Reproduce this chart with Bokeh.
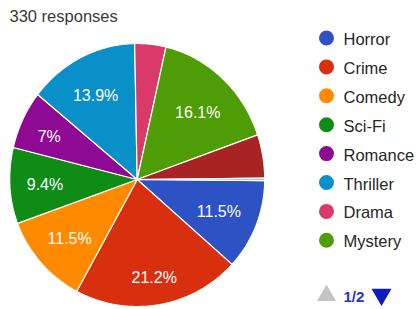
import numpy as np
from bokeh.plotting import figure
from bokeh.models import Range1d
from bokeh.core.properties import value
from bokeh.embed import file_html
from bokeh.resources import INLINE

# ---------------- data ----------------
title_text = "330 responses"
genres = ["Horror", "Crime", "Comedy", "Sci-Fi", "Romance", "Thriller",
          "Drama", "Mystery", "Other 1", "Other 2"]
counts = [38, 70, 38, 31, 23, 46, 13, 53, 17, 1]
colors = ["#2c52c4", "#d8300f", "#ff8a00", "#0e8c16", "#8f0a94", "#0a90c8",
          "#d93a69", "#4e9c06", "#a82424", "#9fbfe0"]
legend_count = 8
page_label = "1/2"

# ---------------- layout (page pixel coordinates) ----------------
FONT = value("Liberation Sans")
FS = "16.5px"
cx, cy = 136.7, 179.0
rx, ry_up, ry_down = 127.5, 136.0, 127.0
start_deg = 90.5          # clockwise from 12 o'clock

W, H = 416, 309
p = figure(width=W, height=H, output_backend="svg", toolbar_location=None,
           x_range=Range1d(0, W), y_range=Range1d(H, 0),
           x_axis_location=None, y_axis_location=None, min_border=0)
p.grid.visible = False
p.outline_line_color = None
p.background_fill_color = "white"
p.border_fill_color = "white"

total = float(sum(counts))
fr = np.array(counts) / total
ends = start_deg + np.cumsum(fr) * 360.0
starts = ends - fr * 360.0


def pt(phi_deg):
    ph = np.radians(phi_deg)
    c = np.cos(ph)
    ry = np.where(c > 0, ry_up, ry_down)
    return cx + rx * np.sin(ph), cy - ry * c


xs, ys = [], []
for s, e in zip(starts, ends):
    n = max(3, int((e - s) / 1.0) + 2)
    ang = np.linspace(s, e, n)
    ax, ay = pt(ang)
    xs.append(np.concatenate([[cx], ax]).tolist())
    ys.append(np.concatenate([[cy], ay]).tolist())

p.patches(xs=xs, ys=ys, fill_color=colors, line_color="white", line_width=1.2)

# slice labels
char_w = {"%": 0.889, ".": 0.278}
fs_px = 16.0
R_lab = 111.0
lx, ly, lt = [], [], []
for s, e, f in zip(starts, ends, fr):
    pct = f * 100
    if pct < 6:
        continue
    txt = f"{round(pct, 1):g}%"
    hw = sum(char_w.get(ch, 0.556) for ch in txt) * fs_px / 2
    hh = 6.0
    m = np.radians((s + e) / 2)
    ux, uy = np.sin(m), -np.cos(m)
    b = abs(ux) * hw + abs(uy) * hh
    d = -b + np.sqrt(b * b - (hw * hw + hh * hh - R_lab * R_lab))
    lx.append(cx + d * ux)
    ly.append(cy + d * uy)
    lt.append(txt)

p.text(x=lx, y=ly, text=lt, text_color="white", text_font=FONT,
       text_font_size="16px", text_align="center", text_baseline="middle")

# title
p.text(x=[9], y=[15], text=[title_text], text_color="#3a3a3a", text_font=FONT,
       text_font_size=FS, text_align="left", text_baseline="middle")

# legend
leg_y = [37.5 + i * 28.9 for i in range(legend_count)]
p.scatter(x=[326] * legend_count, y=leg_y, size=15, marker="circle",
          fill_color=colors[:legend_count], line_color=None)
p.text(x=[343] * legend_count, y=[v + 1 for v in leg_y], text=genres[:legend_count],
       text_color="#262626", text_font=FONT, text_font_size=FS,
       text_align="left", text_baseline="middle")

# pager
p.scatter(x=[326], y=[295], size=19, marker="triangle", fill_color="#c4c4c4", line_color=None)
p.text(x=[343], y=[295.5], text=[page_label], text_color="#1f35d0", text_font=FONT,
       text_font_size="15px", text_font_style="bold", text_align="left", text_baseline="middle")
p.scatter(x=[381], y=[294], size=20, marker="inverted_triangle", fill_color="#0b1cc0", line_color=None)

open("out.html", "w").write(file_html(p, INLINE))
